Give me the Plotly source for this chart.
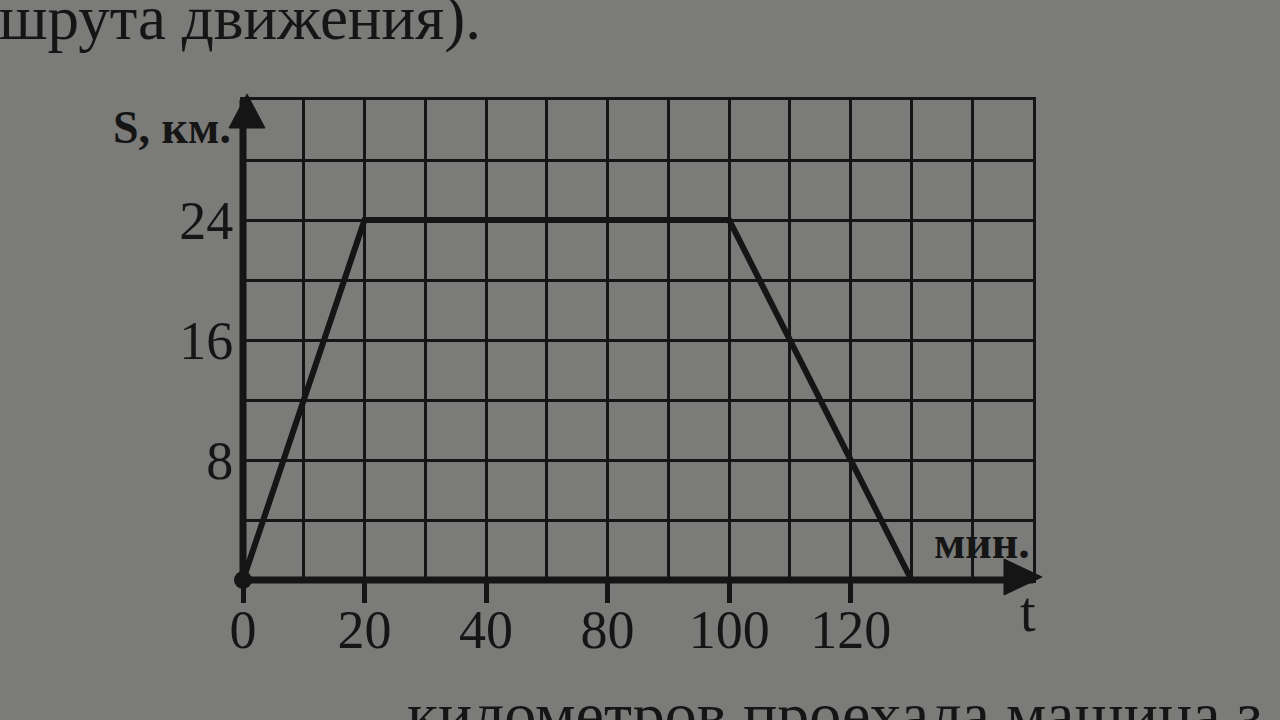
import plotly.graph_objects as go

# ---- data ----
t_min = [0, 20, 80, 110]          # time (grid: 10 min per cell)
s_km = [0, 24, 24, 0]             # distance, km
x_tickvals = [0, 20, 40, 60, 80, 100]
x_ticktext = ["0", "20", "40", "80", "100", "120"]   # as printed in the book
y_tickvals = [8, 16, 24]
y_ticktext = ["8", "16", "24"]

INK = "#151515"
BG = "#7b7b79"
SERIF = "Liberation Serif"

# plot area in pixels
L, R, T, B = 243, 1033, 100, 580
W, H = R - L, B - T


def px(xp):
    return (xp - L) / W


def py(yp):
    return (B - yp) / H


fig = go.Figure()
fig.add_trace(go.Scatter(
    x=t_min, y=s_km, mode="lines+markers",
    line=dict(color=INK, width=6),
    marker=dict(color=INK, size=[18, 0, 0, 0], opacity=1, line=dict(width=0)),
    cliponaxis=False, showlegend=False, hoverinfo="x+y"))

axis_common = dict(showgrid=True, gridcolor=INK, gridwidth=3,
                   showline=True, mirror=True, linecolor=INK, linewidth=3,
                   zeroline=False, layer="below traces",
                   tickfont=dict(family=SERIF, size=54, color=INK))

fig.update_xaxes(range=[0, 130], tickmode="array", tickvals=x_tickvals,
                 ticktext=x_ticktext, ticks="outside", ticklen=20, tickwidth=5,
                 tickcolor=INK, ticklabelstandoff=-20,
                 minor=dict(tickmode="linear", tick0=0, dtick=10, showgrid=True,
                            gridcolor=INK, gridwidth=3, ticks=""),
                 **axis_common)
fig.update_yaxes(range=[0, 32], tickmode="array", tickvals=y_tickvals,
                 ticktext=y_ticktext, ticks="", ticklabelstandoff=-4,
                 minor=dict(tickmode="linear", tick0=0, dtick=4, showgrid=True,
                            gridcolor=INK, gridwidth=3, ticks=""),
                 **axis_common)

shapes = [
    # thick axes
    dict(type="line", xref="paper", yref="paper", x0=0, y0=0, x1=1, y1=0,
         layer="between", line=dict(color=INK, width=7)),
    dict(type="line", xref="paper", yref="paper", x0=0, y0=0, x1=0, y1=1,
         layer="between", line=dict(color=INK, width=7)),
    # arrow heads
    dict(type="path", xref="paper", yref="paper",
         path=f"M {px(247)},{py(94)} L {px(229)},{py(128)} L {px(265)},{py(128)} Z",
         fillcolor=INK, line=dict(color=INK, width=1)),
    dict(type="path", xref="paper", yref="paper",
         path=f"M {px(1042)},{py(577)} L {px(1004)},{py(559)} L {px(1004)},{py(595)} Z",
         fillcolor=INK, line=dict(color=INK, width=1)),
]

annotations = [
    dict(text="<b>S, км.</b>", xref="paper", yref="paper", x=px(233), y=py(127),
         xanchor="right", yanchor="middle", showarrow=False,
         font=dict(family=SERIF, size=46, color=INK)),
    dict(text="<b>мин.</b>", xref="paper", yref="paper", x=px(982), y=py(542),
         xanchor="center", yanchor="middle", showarrow=False,
         font=dict(family=SERIF, size=46, color=INK)),
    dict(text="t", xref="paper", yref="paper", x=px(1028), y=py(612),
         xanchor="center", yanchor="middle", showarrow=False,
         font=dict(family=SERIF, size=56, color=INK)),
    dict(text="шрута движения).", xref="paper", yref="paper", x=px(-3), y=py(18),
         xanchor="left", yanchor="middle", showarrow=False,
         font=dict(family=SERIF, size=63, color=INK)),
    dict(text="километров проехала машина з", xref="paper", yref="paper",
         x=px(405), y=py(714), xanchor="left", yanchor="middle", showarrow=False,
         font=dict(family=SERIF, size=64, color=INK)),
]

fig.update_layout(
    width=1280, height=720,
    margin=dict(l=L, r=1280 - R, t=T, b=720 - B, autoexpand=False),
    paper_bgcolor=BG, plot_bgcolor=BG,
    shapes=shapes, annotations=annotations, showlegend=False,
)

fig.write_html("out.html",
               config={"displayModeBar": False},
               post_script="document.body.style.margin='0';"
                           "document.body.style.overflow='hidden';"
                           "document.body.style.background='" + BG + "';")
